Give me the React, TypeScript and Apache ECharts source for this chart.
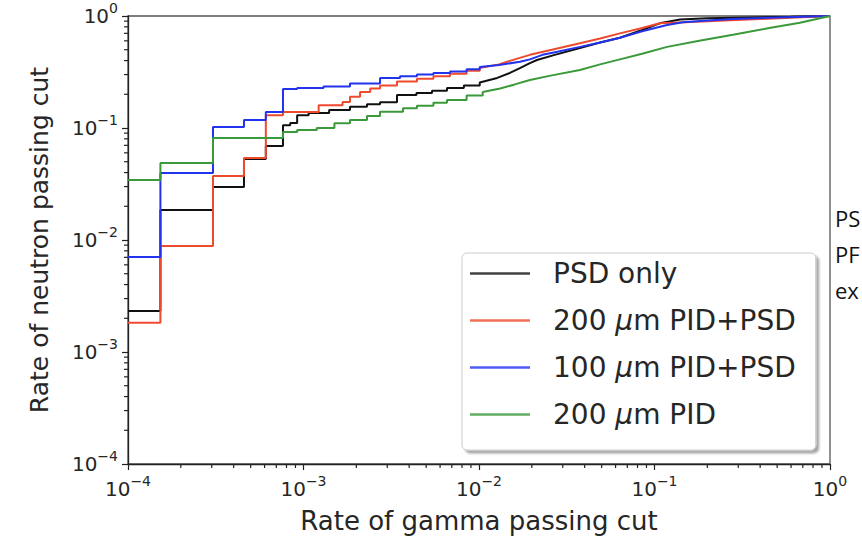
import React, { useEffect, useRef } from "react";
import * as echarts from "echarts";

const FONT = "DejaVu Sans";
const TEXT_COLOR = "#262626";

const SERIES_NAMES = ["PSD only", "200 μm PID+PSD", "100 μm PID+PSD", "200 μm PID"];
const SERIES_COLORS = ["#111111", "#ee4a2e", "#2233ee", "#3a9a3a"];

// PSD only
const psdX = [1e-4, 1.53e-4, 3.05e-4, 4.58e-4, 6.1e-4, 7.64e-4, 8.4e-4, 9.2e-4, 1.07e-3, 1.4e-3, 1.84e-3, 2.3e-3, 2.73e-3, 3.41e-3, 4.4e-3, 5.4e-3, 6.57e-3, 8.2e-3, 1.01e-2, 1.27e-2, 1.5e-2, 1.71e-2, 1.95e-2, 2.14e-2, 2.7e-2, 3.76e-2, 4.9e-2, 6.35e-2, 8.5e-2, 0.107, 0.14, 0.2, 0.35, 0.6, 1];
const psdY = [0.00232, 0.0185, 0.0297, 0.053, 0.069, 0.106, 0.111, 0.13, 0.136, 0.145, 0.155, 0.163, 0.17, 0.197, 0.205, 0.215, 0.228, 0.24, 0.255, 0.28, 0.31, 0.343, 0.38, 0.405, 0.45, 0.518, 0.58, 0.64, 0.75, 0.86, 0.93, 0.955, 0.97, 0.985, 1];

// 200 um PID+PSD
const pid200psdX = [1e-4, 1.53e-4, 3.05e-4, 4.58e-4, 6.1e-4, 7.64e-4, 1.22e-3, 1.67e-3, 1.84e-3, 2.1e-3, 2.4e-3, 2.73e-3, 3.41e-3, 4.43e-3, 5.5e-3, 6.84e-3, 8.5e-3, 1.01e-2, 1.3e-2, 1.6e-2, 1.95e-2, 2.6e-2, 3.76e-2, 4.9e-2, 6.35e-2, 8.5e-2, 0.107, 0.15, 0.25, 0.4, 0.6, 1];
const pid200psdY = [0.00182, 0.00884, 0.0373, 0.054, 0.13, 0.139, 0.16, 0.171, 0.19, 0.21, 0.225, 0.24, 0.26, 0.275, 0.29, 0.305, 0.325, 0.343, 0.37, 0.41, 0.45, 0.5, 0.57, 0.63, 0.7, 0.78, 0.86, 0.88, 0.91, 0.94, 0.965, 1];

// 100 um PID+PSD
const pid100psdX = [1e-4, 1.53e-4, 3.05e-4, 4.58e-4, 6.1e-4, 7.64e-4, 9.2e-4, 1.3e-3, 1.84e-3, 2.73e-3, 3.55e-3, 4.43e-3, 5.5e-3, 6.84e-3, 8.5e-3, 1.01e-2, 1.3e-2, 1.71e-2, 1.95e-2, 2.3e-2, 2.8e-2, 3.76e-2, 4.9e-2, 6.35e-2, 8.5e-2, 0.118, 0.145, 0.2, 0.28, 0.45, 0.7, 1];
const pid100psdY = [0.00705, 0.0397, 0.102, 0.118, 0.139, 0.223, 0.228, 0.235, 0.25, 0.28, 0.29, 0.3, 0.31, 0.32, 0.335, 0.35, 0.365, 0.39, 0.41, 0.45, 0.48, 0.53, 0.58, 0.64, 0.73, 0.83, 0.88, 0.91, 0.94, 0.965, 0.985, 1];

// 200 um PID
const pid200X = [1e-4, 1.53e-4, 3.05e-4, 7.64e-4, 9.2e-4, 1.19e-3, 1.5e-3, 1.84e-3, 2.3e-3, 2.73e-3, 3.69e-3, 4.43e-3, 5.5e-3, 6.57e-3, 8.5e-3, 1.05e-2, 1.32e-2, 1.6e-2, 1.95e-2, 2.6e-2, 3.76e-2, 4.9e-2, 6.35e-2, 8.5e-2, 0.118, 0.18, 0.28, 0.45, 0.674, 1];
const pid200Y = [0.0343, 0.0487, 0.0813, 0.092, 0.096, 0.1, 0.11, 0.118, 0.128, 0.14, 0.15, 0.158, 0.168, 0.178, 0.195, 0.21, 0.225, 0.245, 0.268, 0.295, 0.33, 0.37, 0.41, 0.46, 0.53, 0.6, 0.68, 0.78, 0.87, 1];

const SERIES_X = [psdX, pid200psdX, pid100psdX, pid200X];
const SERIES_Y = [psdY, pid200psdY, pid100psdY, pid200Y];

// The curves are step functions; beyond this gamma rate the steps are finer than a pixel
const STEP_UNTIL = 1.2e-2;

const AXIS_MIN = 1e-4;
const AXIS_MAX = 1;
const MINOR_DECADES = [1e-4, 1e-3, 1e-2, 1e-1];
const MINOR_MULTIPLIERS = [2, 3, 4, 5, 6, 7, 8, 9];

const X_TITLE = "Rate of gamma passing cut";
const Y_TITLE = "Rate of neutron passing cut";
const SIDE_TEXT = ["PS", "PF", "ex"];

function buildStepData(xs: number[], ys: number[]) {
  const out: number[][] = [];
  for (let i = 0; i < xs.length; i++) {
    out.push([xs[i], ys[i]]);
    if (i + 1 < xs.length && xs[i + 1] <= STEP_UNTIL) {
      out.push([xs[i + 1], ys[i]]);
    }
  }
  return out;
}

const minorValues: number[] = [];
MINOR_DECADES.forEach((d) => MINOR_MULTIPLIERS.forEach((m) => minorValues.push(d * m)));

const labelRich = {
  b: { fontSize: 20, fontFamily: FONT, color: TEXT_COLOR, lineHeight: 30 },
  s: { fontSize: 14, fontFamily: FONT, color: TEXT_COLOR, lineHeight: 16, verticalAlign: "top" },
};

function powerLabel(v: number) {
  const e = Math.round(Math.log10(v));
  const exp = e < 0 ? "\u2212" + -e : String(e);
  return `{b|10}{s|${exp}}`;
}

const TICK_COLOR = "#222";
const MINOR_LEN = 4;

export default function App() {
  const ref = useRef<HTMLDivElement>(null);

  useEffect(() => {
    if (!ref.current) return;
    const chart = echarts.init(ref.current, undefined, { renderer: "svg" });

    const axisCommon = {
      type: "log" as const,
      logBase: 10,
      min: AXIS_MIN,
      max: AXIS_MAX,
      axisLine: { show: true, lineStyle: { color: TICK_COLOR, width: 1.3 } },
      axisTick: { show: true, inside: false, length: 6, lineStyle: { color: TICK_COLOR, width: 1.2 } },
      minorTick: { show: false },
      splitLine: { show: false },
      minorSplitLine: { show: false },
      axisLabel: { formatter: powerLabel, rich: labelRich, showMinLabel: true, showMaxLabel: true, margin: 10 },
      nameLocation: "middle" as const,
    };

    // minor ticks of the log axes, placed through the axes' own scales
    const minorTickSeries = (horizontal: boolean) => ({
      type: "scatter",
      silent: true,
      clip: false,
      z: 10,
      data: minorValues.map((v) => (horizontal ? [v, AXIS_MIN] : [AXIS_MIN, v])),
      symbol: "rect",
      symbolSize: horizontal ? [1.2, MINOR_LEN] : [MINOR_LEN, 1.2],
      symbolOffset: horizontal ? [0, MINOR_LEN / 2] : [-MINOR_LEN / 2, 0],
      itemStyle: { color: TICK_COLOR, opacity: 1 },
      emphasis: { disabled: true },
    });

    chart.setOption({
      animation: false,
      backgroundColor: "#ffffff",
      grid: {
        left: 128,
        right: 32,
        top: 16,
        bottom: 76,
        show: true,
        borderColor: "#555",
        borderWidth: 1.3,
        backgroundColor: "transparent",
      },
      xAxis: {
        ...axisCommon,
        position: "bottom",
        name: X_TITLE,
        nameGap: 44,
        nameTextStyle: { fontFamily: FONT, color: TEXT_COLOR, fontSize: 26 },
      },
      yAxis: {
        ...axisCommon,
        position: "left",
        name: Y_TITLE,
        nameGap: 76,
        nameRotate: 90,
        nameTextStyle: { fontFamily: FONT, color: TEXT_COLOR, fontSize: 25 },
      },
      legend: {
        orient: "vertical",
        left: 462,
        top: 253,
        icon: "rect",
        itemWidth: 60,
        itemHeight: 2.5,
        itemGap: 16,
        padding: [5, 20, 20, 8],
        backgroundColor: "#ffffff",
        borderColor: "#cccccc",
        borderWidth: 1,
        borderRadius: 5,
        shadowColor: "rgba(0,0,0,0.35)",
        shadowBlur: 2,
        shadowOffsetX: 3,
        shadowOffsetY: 3,
        itemStyle: { opacity: 0.8 },
        textStyle: {
          fontSize: 28,
          fontFamily: FONT,
          color: TEXT_COLOR,
          lineHeight: 31,
          padding: [0, 0, 0, 18],
          rich: {
            i: { fontSize: 28, fontFamily: FONT, color: TEXT_COLOR, fontStyle: "italic" },
          },
        },
        formatter: (name: string) => name.replace("μ", "{i|μ}"),
        data: SERIES_NAMES,
      },
      graphic: SIDE_TEXT.map((t, i) => ({
        type: "text",
        left: 835,
        top: 207 + i * 36,
        style: { text: t, fontSize: 22, fontFamily: "Open Sans", fill: "#111" },
      })),
      series: [
        ...SERIES_NAMES.map((name, i) => ({
          type: "line",
          name,
          data: buildStepData(SERIES_X[i], SERIES_Y[i]),
          showSymbol: false,
          symbol: "none",
          color: SERIES_COLORS[i],
          lineStyle: { color: SERIES_COLORS[i], width: 2 },
          clip: true,
        })),
        minorTickSeries(true),
        minorTickSeries(false),
      ],
    });

    return () => chart.dispose();
  }, []);

  return (
    <div
      ref={ref}
      style={{ position: "absolute", left: 0, top: 0, width: 862, height: 540 }}
    />
  );
}
